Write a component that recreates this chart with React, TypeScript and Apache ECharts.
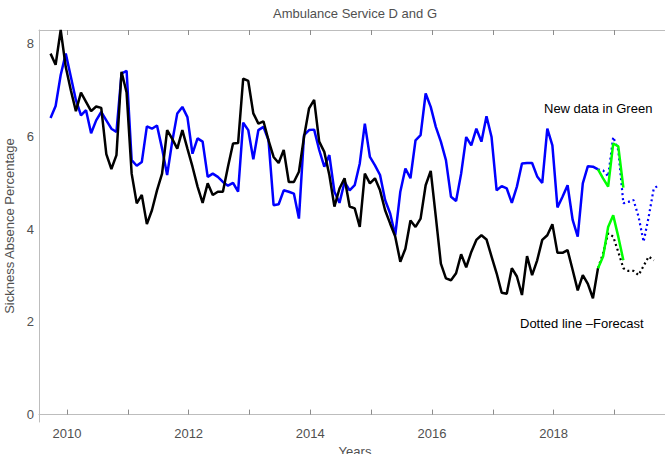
import React, { useEffect, useRef } from "react";
import * as echarts from "echarts";

// Monthly series start (decimal year of first point)
const startYear = 2009.73;
const newDataStartIndex = 108;

const yearTicks = [2010, 2011, 2012, 2013, 2014, 2015, 2016, 2017, 2018, 2019];
const yearLabels = [2010, 2012, 2014, 2016, 2018];
const valueLabels = [0, 2, 4, 6, 8];

const blackValues = [
  7.79, 7.55, 8.3, 7.5, 7.0, 6.55, 6.95, 6.75, 6.55, 6.65, 6.62, 5.62, 5.3, 5.6, 7.4, 6.95,
  5.2, 4.56, 4.74, 4.11, 4.41, 4.84, 5.2, 6.14, 5.95, 5.74, 6.14, 5.74, 5.35, 4.92, 4.57, 4.99,
  4.74, 4.81, 4.81, 5.35, 5.85, 5.86, 7.25, 7.2, 6.5, 6.28, 6.33, 5.92, 5.56, 5.43, 5.71, 5.02,
  5.02, 5.24, 5.99, 6.61, 6.79, 5.89, 5.67, 5.17, 4.49, 4.88, 5.1, 4.49, 4.45, 4.05, 5.2, 4.99,
  5.1, 4.84, 4.41, 4.12, 3.84, 3.3, 3.58, 4.19, 4.05, 4.23, 4.95, 5.26, 4.27, 3.26, 2.94, 2.9,
  3.05, 3.46, 3.18, 3.51, 3.77, 3.87, 3.78, 3.41, 3.05, 2.63, 2.61, 3.16, 2.98, 2.58, 3.42, 3.01,
  3.33, 3.77, 3.87, 4.11, 3.49, 3.49, 3.55, 3.12, 2.68, 3.01, 2.82, 2.51, 3.16,
];

const blueValues = [
  6.4, 6.66, 7.33, 7.79, 7.29, 6.79, 6.46, 6.57, 6.07, 6.35, 6.53, 6.35, 6.17, 6.1, 7.36, 7.42,
  5.49, 5.37, 5.45, 6.22, 6.17, 6.24, 5.74, 5.17, 5.89, 6.5, 6.64, 6.42, 5.63, 5.96, 5.89, 5.13,
  5.2, 5.13, 5.02, 4.94, 5.0, 4.81, 6.3, 6.14, 5.51, 6.14, 6.21, 5.92, 4.52, 4.54, 4.84, 4.81,
  4.77, 4.23, 6.03, 6.14, 6.15, 5.71, 5.35, 5.6, 4.81, 4.57, 5.02, 4.84, 4.95, 5.42, 6.28, 5.56,
  5.38, 5.17, 4.63, 4.34, 3.87, 4.81, 5.31, 5.1, 5.92, 6.03, 6.93, 6.64, 6.21, 5.89, 5.49, 4.7,
  4.61, 5.2, 5.99, 5.81, 6.17, 5.89, 6.44, 5.99, 4.84, 4.93, 4.88, 4.57, 4.92, 5.42, 5.43, 5.43,
  5.14, 5.0, 6.17, 5.81, 4.47, 4.7, 4.95, 4.2, 3.84, 4.99, 5.36, 5.35, 5.29,
];

const newBlackValues = [3.16, 3.41, 4.05, 4.3, 3.84, 3.33];
const newBlueValues = [5.29, 5.1, 4.92, 5.85, 5.79, 4.9];

const forecastBlackValues = [3.16, 3.48, 3.91, 3.84, 3.51, 3.16, 3.1, 3.1, 3.01, 3.21, 3.41, 3.33];
const forecastBlueValues = [5.29, 5.27, 5.14, 5.99, 5.71, 4.56, 4.59, 4.63, 4.27, 3.73, 4.27, 4.88, 4.95];

const toPoints = (vals: number[], offset: number) =>
  vals.map((v, i) => [startYear + (offset + i) / 12, v]);

const FONT = "Liberation Sans, Arial, Helvetica, sans-serif";
const AXIS_GRAY = "#bdbdbd";
const TICK_GRAY = "#8c8c8c";
const TEXT_GRAY = "#505050";

export default function App() {
  const ref = useRef<HTMLDivElement | null>(null);

  useEffect(() => {
    if (!ref.current) return;
    const chart = echarts.init(ref.current, null, { renderer: "svg" });
    const xMin = 2009.54;
    const xMax = 2019.93;
    const solid = (name: string, data: number[][], color: string) => ({
      name,
      type: "line",
      data,
      showSymbol: false,
      symbol: "none",
      lineStyle: { color, width: 2.5 },
      itemStyle: { color },
      z: 2,
    });
    const dotted = (name: string, data: number[][], color: string) => ({
      name,
      type: "line",
      data,
      showSymbol: false,
      symbol: "none",
      lineStyle: { color, width: 2.2, type: [2, 3] },
      itemStyle: { color },
      z: 3,
    });
    chart.setOption({
      animation: false,
      backgroundColor: "#ffffff",
      textStyle: { fontFamily: FONT },
      grid: {
        left: 39,
        top: 30,
        width: 632,
        height: 392,
        containLabel: false,
        outerBoundsMode: "none",
      },
      graphic: [
        {
          type: "text",
          x: 355,
          y: 13,
          style: {
            text: "Ambulance Service D and G",
            font: `13px ${FONT}`,
            fill: TEXT_GRAY,
            align: "center",
            verticalAlign: "middle",
          },
        },
        {
          type: "text",
          x: 544,
          y: 108,
          style: {
            text: "New data in Green",
            font: `13px ${FONT}`,
            fill: "#000000",
            align: "left",
            verticalAlign: "middle",
          },
        },
        {
          type: "text",
          x: 520,
          y: 323,
          style: {
            text: "Dotted line \u2013Forecast",
            font: `13px ${FONT}`,
            fill: "#000000",
            align: "left",
            verticalAlign: "middle",
          },
        },
      ],
      xAxis: [
        {
          type: "value",
          position: "bottom",
          min: xMin,
          max: xMax,
          name: "Years",
          nameLocation: "middle",
          nameGap: 21,
          nameTextStyle: { color: TEXT_GRAY, fontSize: 13, fontFamily: FONT },
          axisLine: { show: true, lineStyle: { color: AXIS_GRAY, width: 1 } },
          axisTick: {
            show: true,
            inside: true,
            length: 5,
            customValues: yearTicks,
            lineStyle: { color: TICK_GRAY },
          },
          axisLabel: {
            show: true,
            customValues: yearLabels,
            color: TEXT_GRAY,
            fontSize: 13,
            fontFamily: FONT,
            margin: 5,
            formatter: (v: number) => String(Math.round(v)),
          },
          splitLine: { show: false },
        },
        {
          type: "value",
          position: "top",
          min: xMin,
          max: xMax,
          axisLine: { show: true, lineStyle: { color: AXIS_GRAY, width: 1 } },
          axisTick: {
            show: true,
            inside: true,
            length: 5,
            customValues: yearTicks,
            lineStyle: { color: TICK_GRAY },
          },
          axisLabel: { show: false },
          splitLine: { show: false },
        },
      ],
      yAxis: {
        type: "value",
        min: -0.16,
        max: 8.3,
        name: "Sickness Absence Percentage",
        nameLocation: "middle",
        nameRotate: 90,
        nameGap: 15,
        nameTextStyle: { color: TEXT_GRAY, fontSize: 13, fontFamily: FONT },
        axisLine: { show: true, lineStyle: { color: AXIS_GRAY, width: 1 } },
        axisTick: { show: false },
        axisLabel: {
          show: true,
          customValues: valueLabels,
          color: TEXT_GRAY,
          fontSize: 13,
          fontFamily: FONT,
          margin: 5,
        },
        splitLine: { show: false },
      },
      series: [
        solid("Blue", toPoints(blueValues, 0), "#0000ff"),
        solid("Black", toPoints(blackValues, 0), "#000000"),
        dotted("Blue forecast", toPoints(forecastBlueValues, newDataStartIndex), "#0000ff"),
        dotted("Black forecast", toPoints(forecastBlackValues, newDataStartIndex), "#000000"),
        { ...solid("Blue new", toPoints(newBlueValues, newDataStartIndex), "#00ff00"), z: 4 },
        { ...solid("Black new", toPoints(newBlackValues, newDataStartIndex), "#00ff00"), z: 4 },
      ],
    });
    return () => {
      chart.dispose();
    };
  }, []);

  return (
    <div
      ref={ref}
      style={{ position: "fixed", left: 0, top: 0, width: 665, height: 454, background: "#fff" }}
    />
  );
}
